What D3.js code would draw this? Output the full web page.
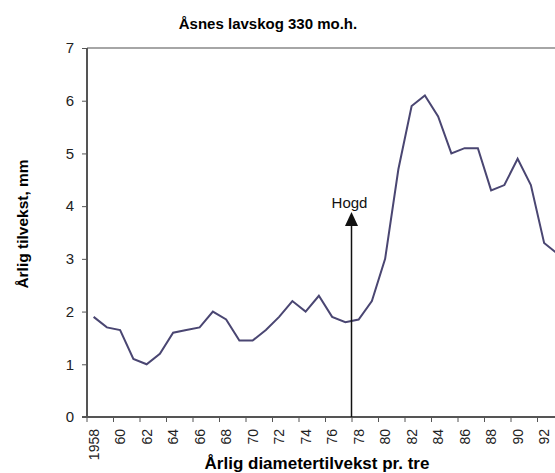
<!DOCTYPE html>
<html>
<head>
<meta charset="utf-8">
<script src="https://cdn.jsdelivr.net/npm/d3@7"></script>
<style>
  body { margin: 0; background: #fff; }
  svg { display: block; font-family: "Liberation Sans", Arial, sans-serif; }
</style>
</head>
<body>
<svg id="chart" width="555" height="473"></svg>
<script>
// years shown on the category axis
var years = d3.range(1958, 1994);
// annual growth, mm
var growth = [1.9, 1.7, 1.65, 1.1, 1.0, 1.2, 1.6, 1.65, 1.7, 2.0,
              1.85, 1.45, 1.45, 1.65, 1.9, 2.2, 2.0, 2.3, 1.9, 1.8,
              1.85, 2.2, 3.0, 4.7, 5.9, 6.1, 5.7, 5.0, 5.1, 5.1,
              4.3, 4.4, 4.9, 4.4, 3.3, 3.1];
var yTicks = [0, 1, 2, 3, 4, 5, 6, 7];
var cutYear = 1978;

var svg = d3.select("#chart");
var plotLeft = 87, plotTop = 48, plotBottom = 417;

var x = d3.scaleBand()
        .domain(years)
        .range([plotLeft, plotLeft + years.length * 13.25]);

var y = d3.scaleLinear()
        .domain([0, 7])
        .range([plotBottom, plotTop]);

// top gridline
svg.append("line")
        .attr("x1", plotLeft).attr("x2", 555)
        .attr("y1", y(7)).attr("y2", y(7))
        .style("stroke", "#a6a6a6")
        .style("stroke-width", "2px");

// y axis
var yAxis = svg.append("g")
        .attr("transform", "translate(" + plotLeft + ",0)")
        .call(d3.axisLeft(y).tickValues(yTicks).tickFormat(d3.format("d"))
                .tickSize(5).tickPadding(8));
yAxis.select(".domain").remove();
yAxis.selectAll("line").style("stroke", "#555");
yAxis.selectAll("text").style("font-size", "15px").style("fill", "#222")
        .style("font-family", "Liberation Sans, Arial, sans-serif");
svg.append("line")
        .attr("x1", plotLeft).attr("x2", plotLeft)
        .attr("y1", plotTop).attr("y2", plotBottom)
        .style("stroke", "#555").style("stroke-width", "2px");

// x axis, ticks between categories
var labelYears = years.filter(function(d) { return (d - 1958) % 2 === 0; });
var xg = svg.append("g");
xg.selectAll("line.tick").data(labelYears)
        .enter().append("line")
        .attr("x1", function(d) { return x(d); })
        .attr("x2", function(d) { return x(d); })
        .attr("y1", plotBottom).attr("y2", plotBottom + 5)
        .style("stroke", "#555");
xg.append("line")
        .attr("x1", plotLeft - 5).attr("x2", 555)
        .attr("y1", plotBottom).attr("y2", plotBottom)
        .style("stroke", "#555").style("stroke-width", "2px");
xg.selectAll("text").data(labelYears)
        .enter().append("text")
        .attr("transform", function(d) {
            return "translate(" + (x(d) + x.bandwidth() / 2 + 5) + "," + (plotBottom + 12) + ") rotate(-90)";
        })
        .attr("text-anchor", "end")
        .style("font-size", "14px")
        .style("fill", "#222")
        .text(function(d) { return d === 1958 ? "1958" : String(d % 100); });

// series line
var line = d3.line()
        .x(function(d, i) { return x(years[i]) + x.bandwidth() / 2; })
        .y(function(d) { return y(d); });

svg.append("path")
        .datum(growth)
        .attr("d", line)
        .style("fill", "none")
        .style("stroke", "#4a4672")
        .style("stroke-width", "2px");

// cutting arrow
var ax = Math.round(x(cutYear)) - 0.5;
svg.append("line")
        .attr("x1", ax).attr("x2", ax)
        .attr("y1", plotBottom).attr("y2", 225)
        .style("stroke", "#111")
        .style("stroke-width", "1.5px");
svg.append("path")
        .attr("d", "M" + ax + ",212L" + (ax + 6.5) + ",226L" + (ax - 6.5) + ",226Z")
        .style("fill", "#111");
svg.append("text")
        .attr("x", ax - 2).attr("y", 208)
        .attr("text-anchor", "middle")
        .style("font-size", "15px")
        .style("fill", "#111")
        .text("Hogd");

// titles
svg.append("text")
        .attr("x", 268).attr("y", 29)
        .attr("text-anchor", "middle")
        .style("font-size", "15px").style("font-weight", "bold")
        .text("Åsnes lavskog 330 mo.h.");

svg.append("text")
        .attr("transform", "translate(28,224) rotate(-90)")
        .attr("text-anchor", "middle")
        .style("font-size", "15.5px").style("font-weight", "bold")
        .text("Årlig tilvekst, mm");

svg.append("text")
        .attr("x", 317).attr("y", 469)
        .attr("text-anchor", "middle")
        .style("font-size", "17px").style("font-weight", "bold")
        .text("Årlig diametertilvekst pr. tre");
</script>
</body>
</html>
